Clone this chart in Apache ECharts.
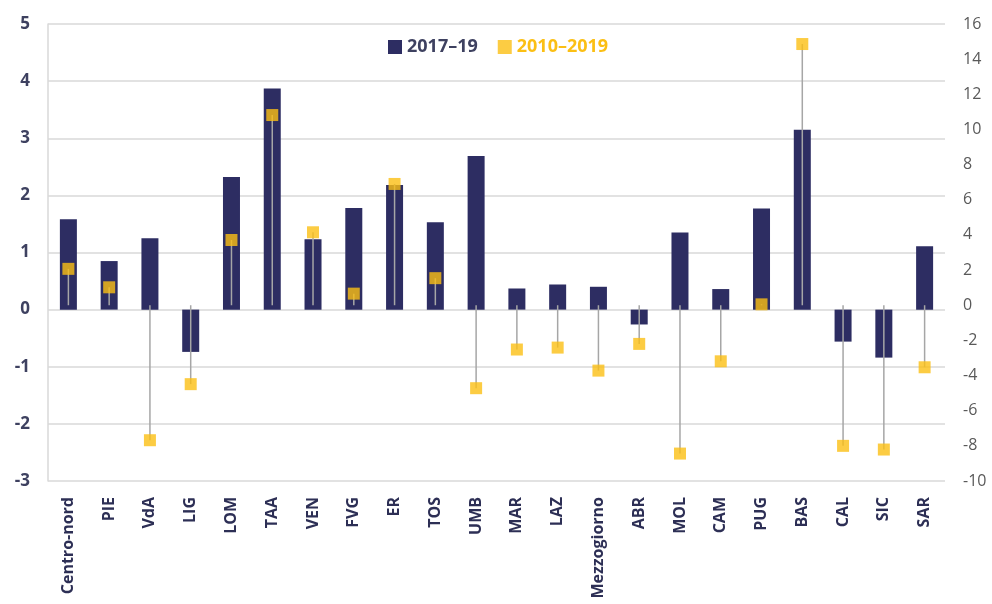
<!DOCTYPE html>
<html>
<head>
<meta charset="utf-8">
<script src="https://cdn.jsdelivr.net/npm/echarts@6/dist/echarts.min.js"></script>
<style>
  html, body { margin: 0; padding: 0; background: #fff; }
  #chart { width: 992px; height: 604px; }
</style>
</head>
<body>
<div id="chart"></div>
<script>
const categories = ['Centro-nord', 'PIE', 'VdA', 'LIG', 'LOM', 'TAA', 'VEN', 'FVG', 'ER', 'TOS', 'UMB',
  'MAR', 'LAZ', 'Mezzogiorno', 'ABR', 'MOL', 'CAM', 'PUG', 'BAS', 'CAL', 'SIC', 'SAR']
// 2017-19, left axis
const recent = [1.58, 0.85, 1.25, -0.74, 2.32, 3.87, 1.23, 1.78, 2.18, 1.53, 2.69,
  0.37, 0.44, 0.40, -0.26, 1.35, 0.36, 1.77, 3.15, -0.56, -0.84, 1.11]
// 2010-2019, right axis
const decade = [2.07, 1.02, -7.68, -4.49, 3.71, 10.82, 4.15, 0.66, 6.9, 1.54, -4.72,
  -2.52, -2.41, -3.72, -2.2, -8.44, -3.19, 0.05, 14.86, -8.0, -8.21, -3.53]

const navy = '#2d2d62'
const yellow = '#fbbf14'

const chart = echarts.init(document.getElementById('chart'))
chart.setOption({
  animation: false,
  grid: { left: 48, right: 47, top: 24, bottom: 123 },
  legend: {
    top: 33,
    left: 383,
    itemGap: 20,
    itemWidth: 14,
    itemHeight: 14,
    textStyle: { fontFamily: 'Open Sans', fontSize: 18, fontWeight: 'bold' },
    data: [
      { name: '2017–19', icon: 'rect', textStyle: { color: '#3e4160' } },
      { name: '2010–2019', icon: 'rect', textStyle: { color: yellow } }
    ]
  },
  xAxis: {
    type: 'category',
    data: categories,
    axisLine: { show: false },
    axisTick: { show: false },
    axisLabel: {
      rotate: 90,
      margin: 16,
      interval: 0,
      color: '#2d2f55',
      fontFamily: 'Open Sans',
      fontWeight: 'bold',
      fontSize: 16
    }
  },
  yAxis: [
    {
      type: 'value',
      min: -3,
      max: 5,
      interval: 1,
      axisLine: { show: true, lineStyle: { color: '#d9d9d9', width: 1.5 } },
      axisTick: { show: false },
      splitLine: { lineStyle: { color: '#d9d9d9', width: 1.5 } },
      axisLabel: {
        margin: 18,
        color: '#3e4160',
        fontFamily: 'Open Sans',
        fontWeight: 'bold',
        fontSize: 17
      }
    },
    {
      type: 'value',
      min: -10,
      max: 16,
      interval: 2,
      axisLine: { show: false },
      axisTick: { show: false },
      splitLine: { show: false },
      axisLabel: {
        margin: 18,
        color: '#595959',
        fontFamily: 'Open Sans',
        fontSize: 16
      }
    }
  ],
  series: [
    {
      name: '2017–19',
      type: 'bar',
      data: recent,
      yAxisIndex: 0,
      barWidth: 17,
      itemStyle: { color: navy }
    },
    {
      name: 'drop',
      type: 'custom',
      yAxisIndex: 1,
      data: decade.map((v, i) => [i, v]),
      encode: { x: 0, y: 1 },
      z: 3,
      renderItem(params, api) {
        const p0 = api.coord([api.value(0), 0])
        const p1 = api.coord([api.value(0), api.value(1)])
        return {
          type: 'line',
          shape: { x1: p0[0], y1: p0[1], x2: p1[0], y2: p1[1] },
          style: { stroke: '#a6a6a6', lineWidth: 1.5 }
        }
      }
    },
    {
      name: '2010–2019',
      type: 'scatter',
      data: decade,
      yAxisIndex: 1,
      symbol: 'rect',
      symbolSize: 12,
      z: 4,
      itemStyle: { color: yellow }
    }
  ]
})
</script>
</body>
</html>
